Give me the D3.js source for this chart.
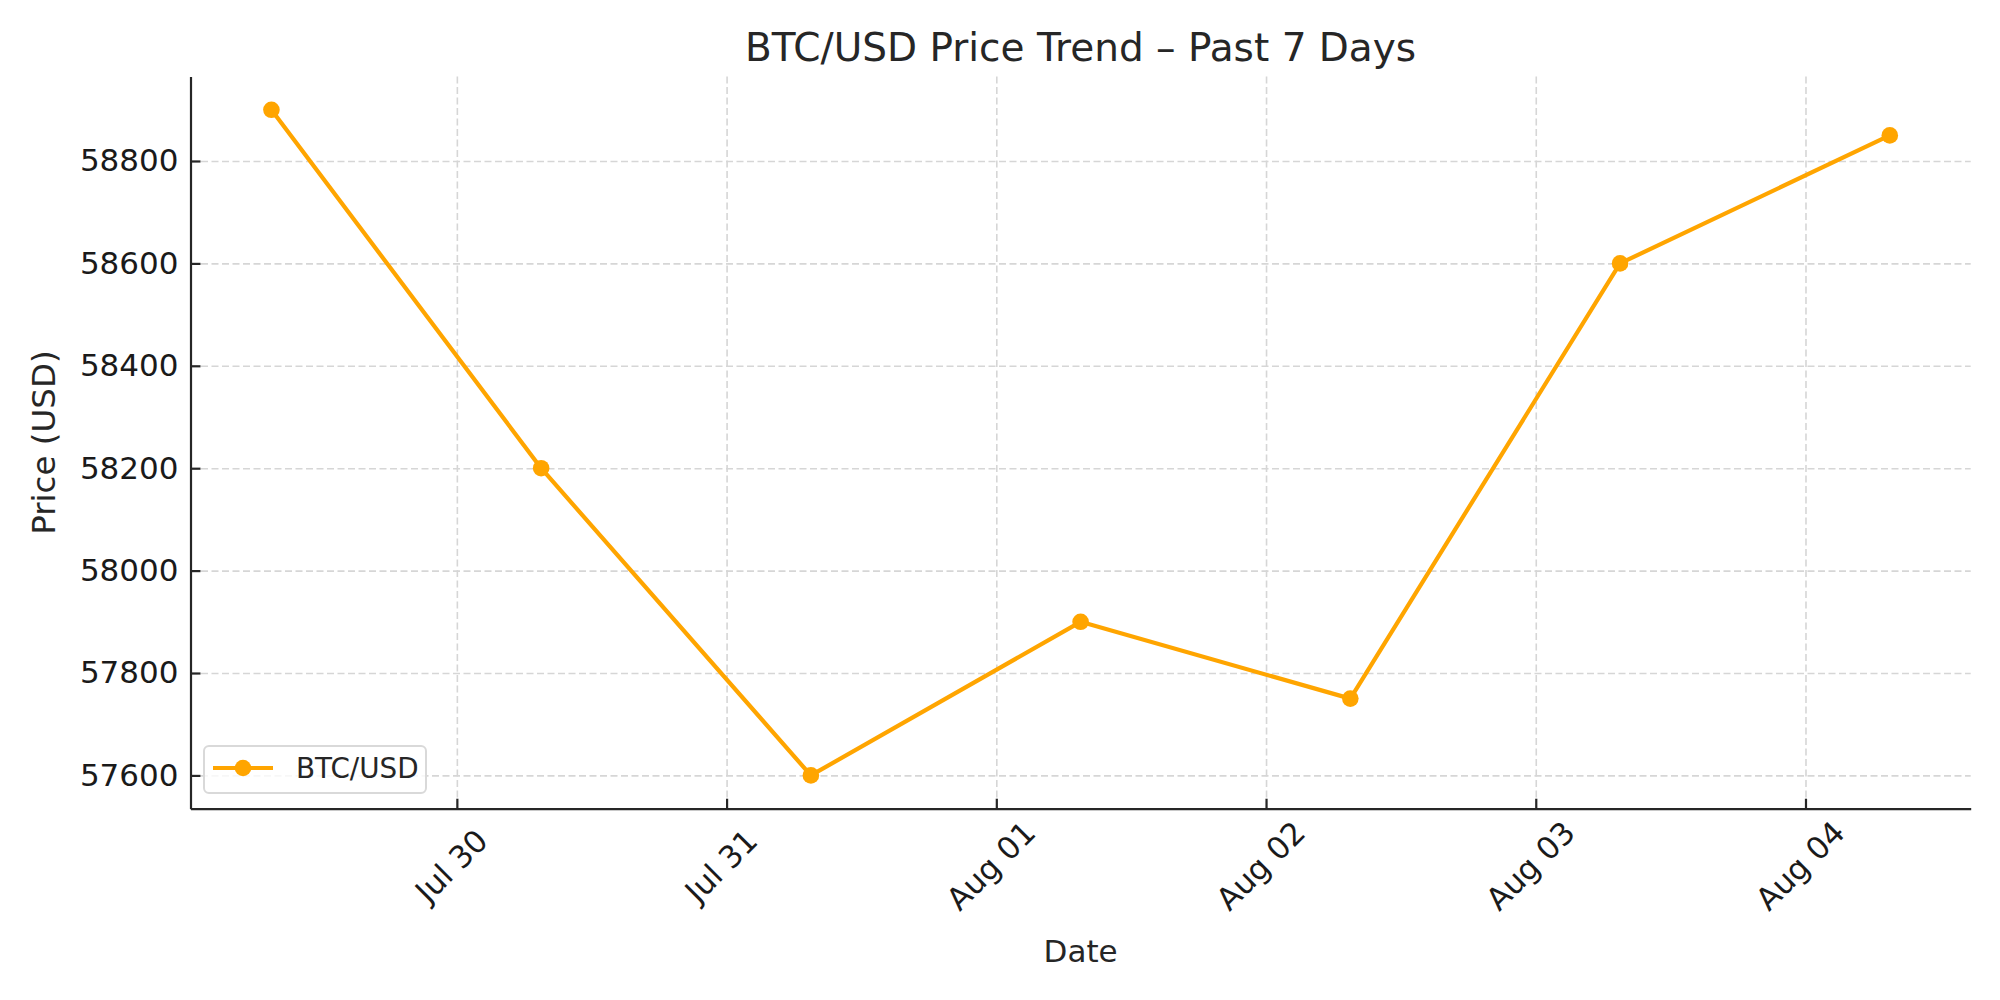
<!DOCTYPE html>
<html>
<head>
<meta charset="utf-8">
<script src="https://cdn.jsdelivr.net/npm/d3@7"></script>
<style>
  body{margin:0;background:#fff;}
  svg text{font-family:"DejaVu Sans",sans-serif;}
  .grid line{stroke:#d6d6d6;stroke-width:1.6;stroke-dasharray:7,3.5;}
</style>
</head>
<body>
<div id="chart"></div>
<script>
// data
var dates=["2024-07-29T07:30","2024-07-30T07:30","2024-07-31T07:30","2024-08-01T07:30","2024-08-02T07:30","2024-08-03T07:30","2024-08-04T07:30"];
var prices=[58900,58200,57600,57900,57750,58600,58850];
var yTicks=[57600,57800,58000,58200,58400,58600,58800];
var seriesName="BTC/USD";

var W=2000,H=1000;
var margin={top:76.5,right:29.3,bottom:191.3,left:190.5};
var width=W-margin.left-margin.right,
    height=H-margin.top-margin.bottom;

var parse=d3.utcParse("%Y-%m-%dT%H:%M");
var data=dates.map(function(d,i){return {date:parse(d),price:prices[i]};});

var svg=d3.select('#chart').append('svg')
  .attr('width',W).attr('height',H);
var g=svg.append('g').attr('transform','translate('+margin.left+','+margin.top+')');

/***** scales, matplotlib-like 5% margins *****/
var xExt=d3.extent(data,function(d){return +d.date;});
var xPad=(xExt[1]-xExt[0])*0.05;
var x=d3.scaleUtc().domain([new Date(xExt[0]-xPad),new Date(xExt[1]+xPad)]).range([0,width]);
var yExt=d3.extent(prices);
var yPad=(yExt[1]-yExt[0])*0.05;
var y=d3.scaleLinear().domain([yExt[0]-yPad,yExt[1]+yPad]).range([height,0]);

var xTicks=x.ticks(d3.utcDay.every(1));

// grid
g.append('g').attr('class','grid')
  .call(d3.axisBottom(x).tickValues(xTicks).tickSize(height).tickFormat(''))
  .call(function(s){s.select('.domain').remove();});
g.append('g').attr('class','grid')
  .call(d3.axisLeft(y).tickValues(yTicks).tickSize(-width).tickFormat(''))
  .call(function(s){s.select('.domain').remove();});

// line + markers
var line=d3.line().x(function(d){return x(d.date);}).y(function(d){return y(d.price);});
g.append('path').datum(data)
  .attr('fill','none').attr('stroke','#FFA500').attr('stroke-width',4.2)
  .attr('stroke-linejoin','round').attr('d',line);
g.selectAll('.pt').data(data).enter().append('circle')
  .attr('class','pt')
  .attr('cx',function(d){return x(d.date);})
  .attr('cy',function(d){return y(d.price);})
  .attr('r',8.3).attr('fill','#FFA500');

// axes (inward ticks, only left & bottom spines)
var xAxis=g.append('g').attr('transform','translate(0,'+height+')')
  .call(d3.axisBottom(x).tickValues(xTicks).tickSizeInner(-10).tickSizeOuter(0).tickFormat(d3.utcFormat('%b %d')));
xAxis.select('.domain').attr('stroke','#262626').attr('stroke-width',2.2);
xAxis.selectAll('.tick line').attr('stroke','#262626').attr('stroke-width',2.2);
xAxis.selectAll('.tick text')
  .attr('font-size',31).attr('fill','#1a1a1a')
  .attr('y',0).attr('dy',0)
  .attr('text-anchor','middle').attr('dominant-baseline','central')
  .attr('transform','translate(-6,57) rotate(-45)');

var yAxis=g.append('g')
  .call(d3.axisLeft(y).tickValues(yTicks).tickSizeInner(-10).tickSizeOuter(0).tickFormat(d3.format('d')));
yAxis.select('.domain').attr('stroke','#262626').attr('stroke-width',2.2);
yAxis.selectAll('.tick line').attr('stroke','#262626').attr('stroke-width',2.2);
yAxis.selectAll('.tick text').attr('font-size',31).attr('fill','#1a1a1a').attr('x',-12);

// titles
svg.append('text').attr('x',margin.left+width/2).attr('y',47)
  .attr('text-anchor','middle').attr('dominant-baseline','central')
  .attr('font-size',39).attr('fill','#262626')
  .text('BTC/USD Price Trend – Past 7 Days');
svg.append('text').attr('x',margin.left+width/2).attr('y',951)
  .attr('text-anchor','middle').attr('dominant-baseline','central')
  .attr('font-size',31).attr('fill','#262626').text('Date');
svg.append('text').attr('transform','translate(43.5,'+(margin.top+height/2)+') rotate(-90)')
  .attr('text-anchor','middle').attr('dominant-baseline','central')
  .attr('font-size',32.5).attr('fill','#262626').text('Price (USD)');

// legend
var lg=svg.append('g').attr('transform','translate(204,746)');
lg.append('rect').attr('width',222).attr('height',47).attr('rx',5)
  .attr('fill','#fff').attr('fill-opacity',0.8).attr('stroke','#d9d9d9').attr('stroke-width',2);
lg.append('line').attr('x1',9).attr('x2',69).attr('y1',22).attr('y2',22)
  .attr('stroke','#FFA500').attr('stroke-width',4.2);
lg.append('circle').attr('cx',39).attr('cy',22).attr('r',8.3).attr('fill','#FFA500');
lg.append('text').attr('x',92).attr('y',22).attr('dominant-baseline','central')
  .attr('font-size',27.8).attr('fill','#262626').text(seriesName);
</script>
</body>
</html>
